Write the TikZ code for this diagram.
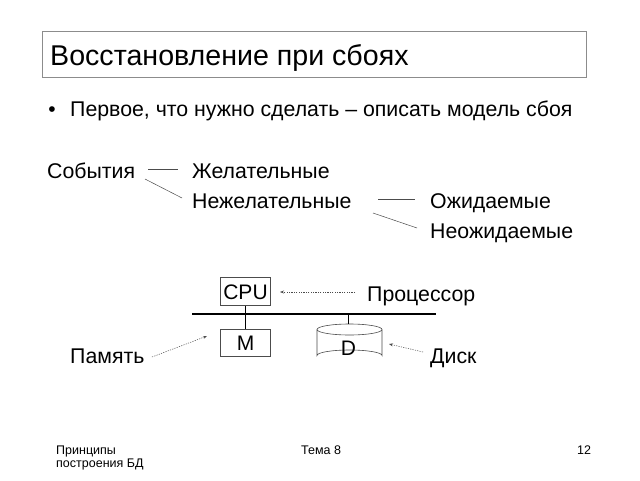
\documentclass[tikz,border=0pt]{standalone}
\usepackage{fontspec}
\setmainfont{Liberation Sans}
\usetikzlibrary{arrows.meta}
\begin{document}
\begin{tikzpicture}[x=1pt,y=-1pt,
  txt/.style={anchor=base west,inner sep=0pt,font=\fontsize{21.3}{24}\selectfont},
  foot/.style={anchor=base west,inner sep=0pt,font=\fontsize{12.5}{13.5}\selectfont},
  conn/.style={draw=black!70,line width=0.5pt},
  box/.style={draw=black!70,line width=0.6pt,minimum width=50pt,inner sep=0pt,text height=15pt,text depth=0pt,font=\fontsize{21}{22}\selectfont},
  hint/.style={draw=black!70,line width=0.5pt,dash pattern=on 1.2pt off 1.2pt,-{Stealth[length=4pt,width=3pt]}}]
\useasboundingbox (0,0) rectangle (640,480);
\fill[white] (0,0) rectangle (640,480);
% title
\node[draw=black!45,line width=1pt,minimum width=544pt,minimum height=46pt,anchor=north west,inner sep=0pt] (tbox) at (42,31) {};
\node[anchor=base west,inner sep=0pt,font=\fontsize{28.6}{30}\selectfont] (title) at (50,65) {Восстановление при сбоях};
% bullet
\node[anchor=base,inner sep=0pt,font=\fontsize{21}{21}\selectfont] (bul) at (52,116) {•};
\node[txt] (b1) at (70,116) {Первое, что нужно сделать – описать модель сбоя};
% tree
\node[txt] (ev) at (47,178) {События};
\node[txt] (des) at (192,178) {Желательные};
\node[txt] (und) at (192,208) {Нежелательные};
\node[txt] (exp) at (430,208) {Ожидаемые};
\node[txt] (unexp) at (430,238) {Неожидаемые};
\coordinate (e1) at (148,169); \coordinate (e2) at (178,169);
\coordinate (e3) at (145,179); \coordinate (e4) at (182,198);
\coordinate (u1) at (378,199); \coordinate (u2) at (415,199);
\coordinate (u3) at (373,213); \coordinate (u4) at (417,228);
\draw[conn] (e1) -- (e2);
\draw[conn] (e3) -- (e4);
\draw[conn] (u1) -- (u2);
\draw[conn] (u3) -- (u4);
% hardware
\node[box,minimum height=28pt] (cpu) at (245.5,291.5) {CPU};
\node[box,minimum height=27pt] (mem) at (245.5,342.5) {M};
\coordinate (busL) at (192,314);
\coordinate (busR) at (436,314);
\draw[line width=2pt] (busL) -- (busR);
\draw[line width=1pt] (cpu.south) -- (cpu.south |- busL);
\draw[line width=1pt] (mem.north) -- (mem.north |- busL);
% disk
\draw[draw=black!70,line width=0.6pt,fill=white] (317,329.5) -- (317,355.5) arc[start angle=180,end angle=360,x radius=32.5,y radius=5.5] -- (382,329.5);
\draw[draw=black!70,line width=0.6pt] (349.5,329.5) ellipse[x radius=32.5,y radius=5.5];
\node[inner sep=0pt,text height=15pt,text depth=0pt,font=\fontsize{21}{22}\selectfont] (disk) at (348.5,347.5) {D};
\coordinate (dtop) at (348.5,324);
\draw[line width=1pt] (dtop) -- (dtop |- busL);
% labels
\node[txt] (proc) at (367,301) {Процессор};
\node[txt] (memL) at (70,363) {Память};
\node[txt] (diskL) at (430,363) {Диск};
\coordinate (pa) at (355,292); \coordinate (pb) at (280,292);
\coordinate (ma) at (152,357); \coordinate (mb) at (207,336);
\coordinate (da) at (423,352); \coordinate (db) at (389,344);
\draw[hint] (pa) -- (pb);
\draw[hint] (ma) -- (mb);
\draw[hint] (da) -- (db);
% footer
\node[foot] (f1) at (56,454) {Принципы};
\node[foot] (f1b) at (56,467.5) {построения БД};
\node[foot] (f2) at (301,454) {Тема 8};
\node[foot] (f3) at (577,454) {12};
\end{tikzpicture}
\end{document}
